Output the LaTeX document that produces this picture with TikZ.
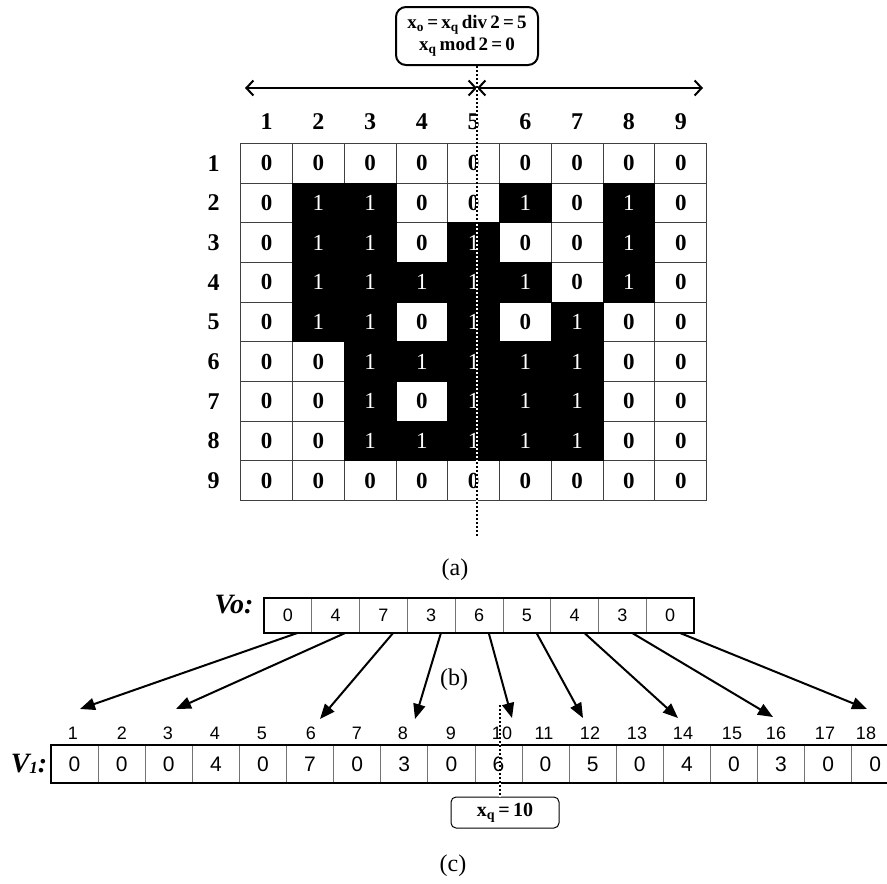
\documentclass[tikz,border=0pt]{standalone}
\usepackage{fontspec}
\setmainfont{Liberation Serif}
\newfontfamily\arialf{Liberation Sans}
\usetikzlibrary{arrows.meta,calc}
\begin{document}
\begin{tikzpicture}[x=1pt,y=-1pt,
  zc/.style={draw=black!75,line width=0.8pt,minimum width=51.77pt,minimum height=39.67pt,inner sep=0pt,font=\fontsize{23}{23}\selectfont\bfseries},
  oc/.style={fill=black,draw=black,line width=0.8pt,minimum width=51.77pt,minimum height=39.67pt,inner sep=0pt,text=white,font=\fontsize{23}{23}\selectfont},
  hd/.style={inner sep=0pt,font=\fontsize{24}{24}\selectfont\bfseries},
  vc/.style={draw=black!55,line width=0.8pt,minimum width=47.78pt,minimum height=34pt,inner sep=0pt,font=\arialf\fontsize{18}{18}\selectfont},
  wc/.style={draw=black!55,line width=0.8pt,minimum width=47.1pt,minimum height=38pt,inner sep=0pt,font=\arialf\fontsize{21}{21}\selectfont},
  lb/.style={inner sep=0pt,font=\arialf\fontsize{18}{18}\selectfont},
  captxt/.style={inner sep=0pt,font=\fontsize{24}{24}\selectfont},
  vlbl/.style={inner sep=0pt,font=\fontsize{28}{28}\selectfont\bfseries\itshape},
  frame/.style={line width=2pt},
  arr/.style={line width=2pt,-{Triangle[length=15pt,width=12pt]}},
  darr/.style={line width=2pt,{Straight Barb[length=7pt,width=15pt,line width=2pt]}-{Straight Barb[length=7pt,width=15pt,line width=2pt]}},
  dotw/.style={line width=2.4pt,white},
  dotk/.style={line width=2pt,dash pattern=on 2pt off 2pt},
  lblbox/.style={draw,rounded corners=10pt,line width=2pt,align=center,minimum width=142pt,minimum height=58pt,inner sep=2pt,font=\fontsize{19}{22}\selectfont\bfseries},
  xqbox/.style={draw,rounded corners=5pt,line width=1pt,minimum width=108pt,minimum height=31pt,inner sep=2pt,font=\fontsize{20}{20}\selectfont\bfseries}
]
\useasboundingbox (0,0) rectangle (887,884);
\clip (0,0) rectangle (887,884);

% top label box
\node[lblbox] (topbox) at (467,36) {x\textsubscript{o}\,=\,x\textsubscript{q}\,div\,2\,=\,5\\x\textsubscript{q}\,mod\,2\,=\,0};

% double arrows
\coordinate (al) at (245,88);
\coordinate (am) at (477,88);
\coordinate (ar) at (703,88);
\draw[darr] (al) -- (am);
\draw[darr] (am) -- (ar);

% grid headers
\foreach \c in {1,...,9}
  \node[hd] (ch\c) at ({240.7+51.77*(\c-0.5)},122) {\c};
\foreach \r in {1,...,9}
  \node[hd] (rh\r) at (213.7,{143.3+39.67*(\r-0.5)}) {\r};

% grid cells: zeros
\foreach \rowv [count=\r] in {{0,0,0,0,0,0,0,0,0},{0,1,1,0,0,1,0,1,0},{0,1,1,0,1,0,0,1,0},{0,1,1,1,1,1,0,1,0},{0,1,1,0,1,0,1,0,0},{0,0,1,1,1,1,1,0,0},{0,0,1,0,1,1,1,0,0},{0,0,1,1,1,1,1,0,0},{0,0,0,0,0,0,0,0,0}}{
  \foreach \v [count=\c] in \rowv {
    \ifnum\v=0
      \node[zc] (g\r-\c) at ({240.7+51.77*(\c-0.5)},{143.3+39.67*(\r-0.5)}) {0};
    \fi
  }
}
% grid cells: ones
\foreach \rowv [count=\r] in {{0,0,0,0,0,0,0,0,0},{0,1,1,0,0,1,0,1,0},{0,1,1,0,1,0,0,1,0},{0,1,1,1,1,1,0,1,0},{0,1,1,0,1,0,1,0,0},{0,0,1,1,1,1,1,0,0},{0,0,1,0,1,1,1,0,0},{0,0,1,1,1,1,1,0,0},{0,0,0,0,0,0,0,0,0}}{
  \foreach \v [count=\c] in \rowv {
    \ifnum\v=1
      \node[oc] (g\r-\c) at ({240.7+51.77*(\c-0.5)},{143.3+39.67*(\r-0.5)}) {1};
    \fi
  }
}

% upper dotted line
\coordinate (dbot) at (477,537);
\draw[dotw] (topbox.south -| dbot) -- (dbot);
\draw[dotk] (topbox.south -| dbot) -- (dbot);

\node[captxt] (capa) at (455,570) {(a)};

% Vo row
\node[vlbl] (volbl) at (234,605) {Vo:};
\foreach \v [count=\i] in {0,4,7,3,6,5,4,3,0}
  \node[vc] (vo\i) at ({264+47.78*(\i-0.5)},615.5) {\v};
\draw[frame] (vo1.north west) rectangle (vo9.south east);

\node[captxt] (capb) at (454,680) {(b)};

% V1 row
\node[vlbl] (v1lbl) at (29,764) {V\raisebox{-1pt}{\fontsize{17}{17}\selectfont 1}:};
\foreach \x [count=\i] in {73,122,168,215,262,311,357,403,451,502,544,590,637,683,732,776,825,866}
  \node[lb] (l\i) at (\x,733) {\i};
\foreach \v [count=\i] in {0,0,0,4,0,7,0,3,0,6,0,5,0,4,0,3,0,0}
  \node[wc] (v\i) at ({51+47.1*(\i-0.5)},764) {\v};
\draw[frame] (v1.north west) rectangle (v18.south east);

% arrows Vo -> V1
\foreach \s/\t/\dx/\dy in {1/1/7/-24, 2/3/8/-24, 3/6/9/-14, 4/8/12/-14, 5/10/10/-15, 6/12/-7/-15, 7/14/-5/-15, 8/16/-3/-16, 9/18/1/-24}
  \draw[arr] ($(vo\s.south)!0.4!(vo\s.south east)$) -- ($(l\t)+(\dx,\dy)$);

% xq box and lower dotted line
\node[xqbox] (xq) at (505,812.5) {x\textsubscript{q}\,=\,10};
\coordinate (dl) at (500,705);
\draw[dotw] (dl) -- (dl |- xq.north);
\draw[dotk] (dl) -- (dl |- xq.north);

\node[captxt] (capc) at (453,866) {(c)};
\end{tikzpicture}
\end{document}
